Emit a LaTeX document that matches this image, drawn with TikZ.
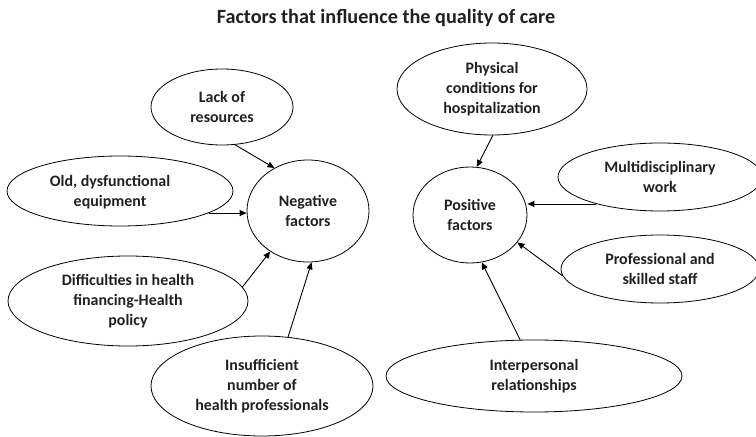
\documentclass[tikz,border=0pt]{standalone}
\usepackage{fontspec}
\setmainfont{Carlito}
\usetikzlibrary{shapes.geometric,arrows.meta}
\definecolor{txt}{HTML}{231F20}
\begin{document}
\begin{tikzpicture}[x=1bp,y=-1bp,
 ell/.style={draw, ellipse, inner sep=0pt, line width=0.8bp, align=center, text=txt, font=\bfseries\fontsize{16}{20}\selectfont},
 lbl/.style={align=center, text=txt, font=\bfseries\fontsize{16}{20}\selectfont, inner sep=0pt},
 arr/.style={-{Triangle[length=7bp,width=6bp]}, line width=0.9bp}]
\useasboundingbox (0,0) rectangle (756,437);
\node[text=txt, font=\bfseries\fontsize{20.3}{24}\selectfont] (title) at (386,18) {Factors that influence the quality of care};
\node[ell, minimum width=142bp, minimum height=76bp] (lack) at (222,107) {Lack of\\resources};
\node[ell, minimum width=226bp, minimum height=70bp] (old) at (120,191) {};
\node[lbl] (oldtext) at (110,192) {Old, dysfunctional\\equipment};
\node[ell, minimum width=240bp, minimum height=90bp] (diff) at (128,301) {Difficulties in health\\financing-Health\\policy};
\node[ell, minimum width=222bp, minimum height=100bp] (insuf) at (262,386) {Insufficient\\number of\\health professionals};
\node[ell, minimum width=122bp, minimum height=102bp] (neg) at (308,211) {Negative\\factors};
\node[ell, minimum width=190bp, minimum height=92bp] (phys) at (492,89) {Physical\\conditions for\\hospitalization};
\node[ell, minimum width=114bp, minimum height=96bp] (pos) at (470,215) {Positive\\factors};
\node[ell, minimum width=204bp, minimum height=68bp] (multi) at (660,177) {Multidisciplinary\\work};
\node[ell, minimum width=198bp, minimum height=68bp] (prof) at (660,269) {Professional and\\skilled staff};
\node[ell, minimum width=296bp, minimum height=72bp] (inter) at (534,376) {Interpersonal\\relationships};
\draw[arr] (lack.-71) -- (neg.128);
\draw[arr] (old.-14) -- (old.-14 -| neg.west);
\draw[arr] (diff.7) -- (neg.227);
\draw[arr] (insuf.62) -- (neg.-86);
\draw[arr] (phys.-89) -- (pos.82);
\draw[arr] (multi.203) -- (multi.203 -| pos.east);
\draw[arr] (prof.184) -- (pos.-30);
\draw[arr] (inter.111) -- (pos.-76);
\end{tikzpicture}
\end{document}
